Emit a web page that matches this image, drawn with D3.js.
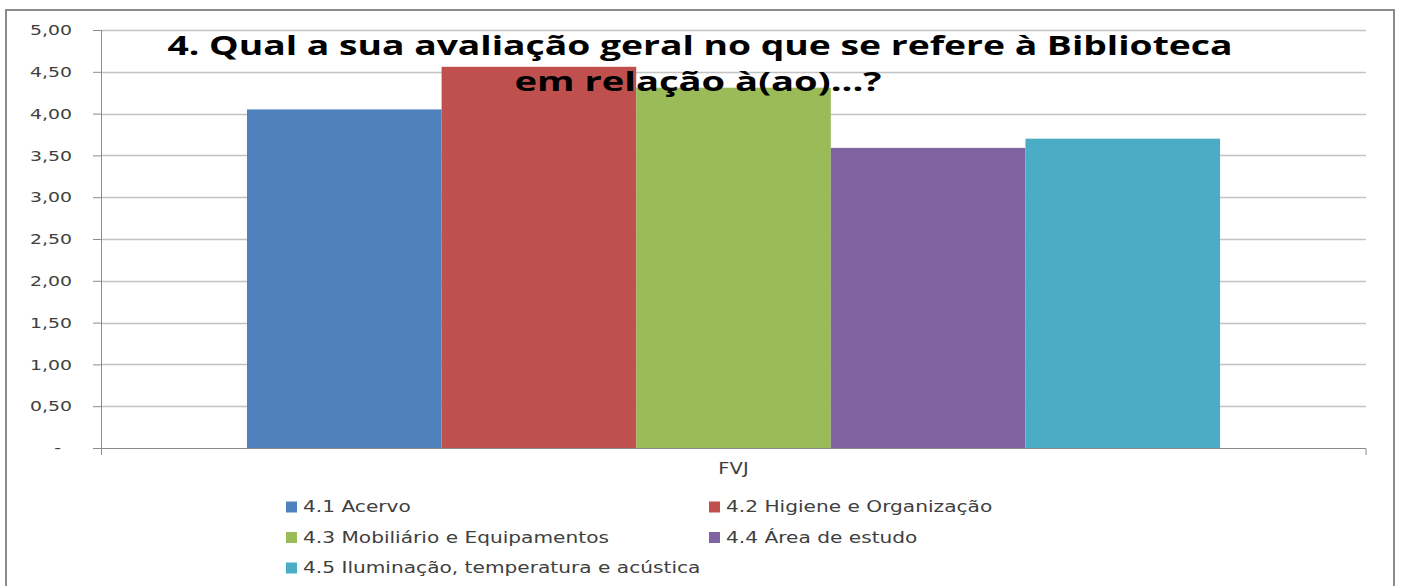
<!DOCTYPE html>
<html>
<head>
<meta charset="utf-8">
<script src="https://cdn.jsdelivr.net/npm/d3@7"></script>
<style>
  body { margin: 0; background: #fff; }
  svg { display: block; }
</style>
</head>
<body>
<svg id="chart" width="1405" height="586"></svg>
<script>
const category = "FVJ";
const series = [
  "4.1 Acervo",
  "4.2 Higiene e Organização",
  "4.3 Mobiliário e Equipamentos",
  "4.4 Área de estudo",
  "4.5 Iluminação, temperatura e acústica"
];
const values = [4.05, 4.56, 4.31, 3.59, 3.70];
const colors = ["#4f81bd", "#c0504d", "#9bbb59", "#8064a2", "#4bacc6"];
const yTicks = [0, 0.5, 1, 1.5, 2, 2.5, 3, 3.5, 4, 4.5, 5];
const titleLines = [
  "4. Qual a sua avaliação geral no que se refere à Biblioteca",
  "em relação à(ao)...?"
];

const plot = {left: 101, right: 1366, top: 30, bottom: 448};
const gap = 1.5;      // excel gap width
const stretch = 1.3;  // the original picture is stretched sideways
const font = "'DejaVu Sans', Verdana, sans-serif";

const svg = d3.select("#chart");

// outer frame
svg.append("rect")
  .attr("x", 6).attr("y", 10)
  .attr("width", 1388).attr("height", 600)
  .attr("fill", "white")
  .attr("stroke", "#8c8c8c")
  .attr("stroke-width", 2);

const y = d3.scaleLinear().domain([0, 5]).range([plot.bottom, plot.top]);

const x0 = d3.scaleBand().domain([category]).range([plot.left, plot.right]);
const pad = x0.bandwidth() * (gap / 2) / (series.length + gap);
const x1 = d3.scaleBand()
  .domain(series)
  .range([x0(category) + pad, x0(category) + x0.bandwidth() - pad]);

// gridlines
svg.append("g")
  .selectAll("line")
  .data(yTicks.filter(d => d > 0))
  .join("line")
    .attr("x1", plot.left).attr("x2", plot.right)
    .attr("y1", d => Math.round(y(d)) + 0.5)
    .attr("y2", d => Math.round(y(d)) + 0.5)
    .attr("stroke", "#c3c3c3")
    .attr("stroke-width", 1.5);

// bars
svg.append("g")
  .selectAll("rect")
  .data(series)
  .join("rect")
    .attr("x", d => x1(d))
    .attr("width", x1.bandwidth())
    .attr("y", (d, i) => y(values[i]))
    .attr("height", (d, i) => y(0) - y(values[i]))
    .attr("fill", (d, i) => colors[i]);

// y axis
const fmt = v => v === 0 ? "-" : d3.format(".2f")(v).replace(".", ",");
const yAxis = svg.append("g")
  .attr("transform", `translate(${plot.left},0)`)
  .call(d3.axisLeft(y).tickValues(yTicks).tickSize(8).tickFormat(fmt));
yAxis.select(".domain")
  .attr("d", `M0.5,${plot.top}V${plot.bottom + 7}`)
  .attr("stroke", "#8c8c8c");
yAxis.selectAll(".tick line").attr("stroke", "#8c8c8c");
yAxis.selectAll(".tick text")
  .attr("x", d => d === 0 ? -40 / stretch : -29 / stretch)
  .attr("transform", `scale(${stretch},1)`)
  .attr("fill", "#404040")
  .style("font-family", font)
  .style("font-size", "14.5px");

// x axis
const xAxis = svg.append("g")
  .attr("transform", `translate(0,${plot.bottom})`)
  .call(d3.axisBottom(x0).tickSize(0).tickPadding(15));
xAxis.select(".domain")
  .attr("d", `M${plot.left - 8},0.5H${plot.right}V7`)
  .attr("stroke", "#8c8c8c");
xAxis.selectAll(".tick text")
  .attr("transform", `scale(${stretch},1)`)
  .attr("fill", "#404040")
  .style("font-family", font)
  .style("font-size", "15px");

// title
const titleWidths = [1065, 367];
const titleCenters = [700, 698];
svg.append("g")
  .selectAll("text")
  .data(titleLines)
  .join("text")
    .attr("x", (d, i) => titleCenters[i])
    .attr("y", (d, i) => 55 + i * 36)
    .attr("text-anchor", "middle")
    .attr("textLength", (d, i) => titleWidths[i])
    .attr("lengthAdjust", "spacingAndGlyphs")
    .attr("fill", "#000")
    .style("font-family", "'Open Sans', Lato, sans-serif")
    .style("font-weight", "bold")
    .style("font-size", "27px")
    .text(d => d);

// legend
const legendCols = [286, 709];
const legend = svg.append("g")
  .selectAll("g")
  .data(series)
  .join("g")
    .attr("transform", (d, i) => `translate(${legendCols[i % 2]},${507 + Math.floor(i / 2) * 30.5})`);

legend.append("rect")
  .attr("x", 0).attr("y", -5.5)
  .attr("width", 11).attr("height", 11)
  .attr("fill", (d, i) => colors[i]);

legend.append("text")
  .attr("transform", `translate(17,0) scale(${stretch},1)`)
  .attr("dy", "0.35em")
  .attr("fill", "#404040")
  .style("font-family", font)
  .style("font-size", "15.5px")
  .text(d => d);
</script>
</body>
</html>
